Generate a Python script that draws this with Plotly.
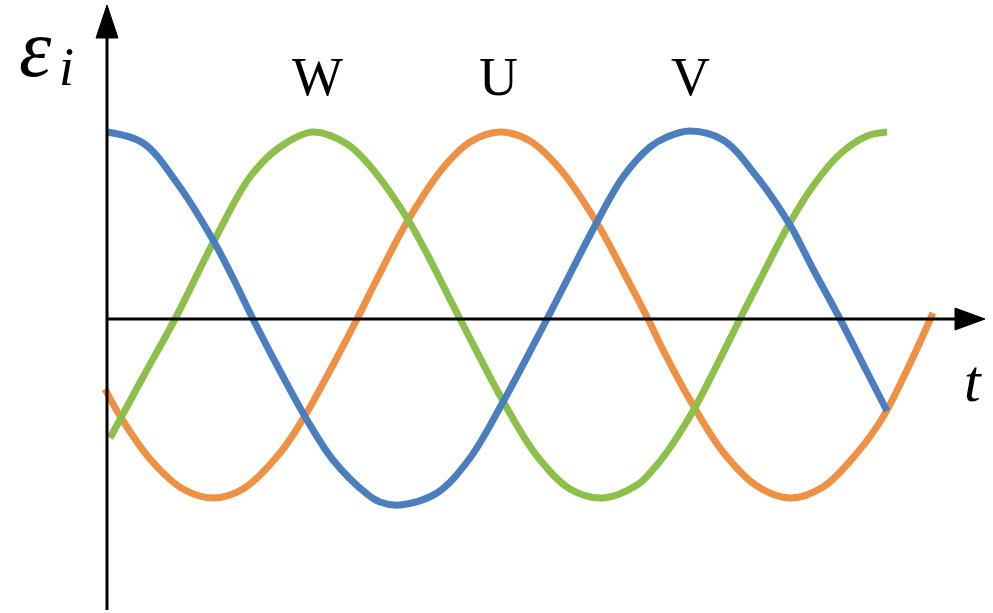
import plotly.graph_objects as go

# time axis samples (arbitrary units) and EMF values (arbitrary units)
t_v = [0, 36, 70, 106, 126, 146, 173, 200, 226, 260, 273, 293, 330, 363, 396, 440,
       490, 516, 543, 560, 583, 616, 650, 683, 706, 733, 760, 780]
e_v = [187, 176, 136, 79, 41, 0, -52, -101, -141, -175, -183, -186, -174, -139, -83, 0,
       97, 142, 172, 182, 188, 179, 142, 94, 50, 0, -53, -92]

t_w = [3, 36, 68, 106, 143, 173, 206, 240, 263, 303, 353, 396, 430, 463, 496, 530,
       543, 560, 586, 610, 633, 656, 680, 706, 733, 760, 780]
e_w = [-119, -58, 0, 76, 142, 172, 187, 175, 153, 96, 0, -82, -137, -170, -179, -166,
       -154, -133, -92, -46, 0, 45, 91, 133, 165, 183, 187]

t_u = [-2, 13, 43, 76, 106, 136, 173, 196, 226, 250, 270, 300, 336, 363, 393, 423,
       453, 490, 516, 541, 555, 583, 616, 650, 683, 716, 750, 776, 800, 826]
e_u = [-70, -97, -140, -170, -179, -170, -134, -100, -46, 0, 40, 97, 151, 177, 187, 178,
       150, 96, 48, 0, -29, -81, -133, -167, -179, -168, -134, -98, -51, 6]

phase_labels = ["W", "U", "V"]
label_t = [210, 391, 583]

BLUE = "#4A7EBF"
GREEN = "#8DBF4B"
ORANGE = "#EF9145"

fig = go.Figure()
for t, e, c in [(t_u, e_u, ORANGE), (t_w, e_w, GREEN), (t_v, e_v, BLUE)]:
    fig.add_trace(go.Scatter(x=t, y=e, mode="lines",
                             line=dict(color=c, width=7, shape="spline", smoothing=1.0),
                             hoverinfo="skip", showlegend=False))

# axes with arrows
shapes = [
    dict(type="line", x0=0, y0=-291, x1=0, y1=285, line=dict(color="black", width=3)),
    dict(type="path", path="M -11 281 L 11 281 L 0 314 Z", fillcolor="black",
         line=dict(color="black", width=1)),
    dict(type="line", x0=0, y0=0, x1=852, y1=0, line=dict(color="black", width=3)),
    dict(type="path", path="M 848 11 L 848 -11 L 878 0 Z", fillcolor="black",
         line=dict(color="black", width=1)),
]

annotations = []
for lab, tx in zip(phase_labels, label_t):
    annotations.append(dict(x=tx, y=242, text=lab, showarrow=False,
                            font=dict(family="Liberation Serif", size=54, color="black"),
                            xanchor="center", yanchor="middle"))
annotations.append(dict(x=-72, y=318, text="<i>ε</i>", showarrow=False,
                        font=dict(family="Liberation Serif", size=82, color="black"),
                        xanchor="center", yanchor="top"))
annotations.append(dict(x=-41, y=252, text="<i>i</i>", showarrow=False,
                        font=dict(family="Liberation Serif", size=54, color="black"),
                        xanchor="center", yanchor="middle"))
annotations.append(dict(x=866, y=-62, text="<i>t</i>", showarrow=False,
                        font=dict(family="Liberation Serif", size=60, color="black"),
                        xanchor="center", yanchor="middle"))

fig.update_layout(
    width=993, height=613, autosize=False,
    margin=dict(l=0, r=0, t=0, b=0, pad=0),
    paper_bgcolor="white", plot_bgcolor="white",
    xaxis=dict(range=[-107, 886], visible=False, fixedrange=True),
    yaxis=dict(range=[-294, 319], visible=False, fixedrange=True),
    shapes=shapes, annotations=annotations,
)

fig.write_html("out.html", config={"displayModeBar": False},
               post_script="document.body.style.margin='0px';")
